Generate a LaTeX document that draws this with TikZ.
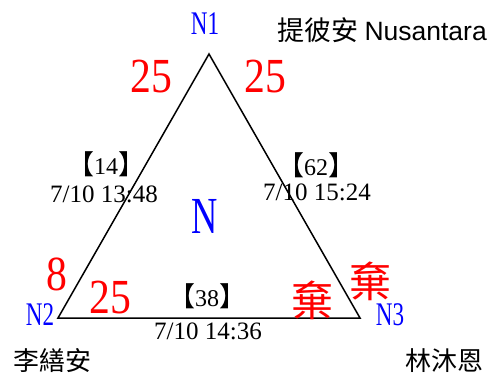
\documentclass[tikz,border=0pt]{standalone}
\usepackage{fontspec}
\setmainfont{Liberation Serif}
\newfontfamily\narrowfont[FakeStretch=0.7]{Liberation Serif}
\newfontfamily\digitfont[FakeStretch=0.85]{Liberation Serif}
\newfontfamily\sansfont{Liberation Sans}
\newfontfamily\cjk{Noto Sans CJK TC}
\newcommand{\lbr}{{\cjk\fontsize{27}{27}\selectfont 【}}
\newcommand{\rbr}{{\cjk\fontsize{27}{27}\selectfont 】}}
\usetikzlibrary{calc}

\begin{document}
\begin{tikzpicture}[x=1pt, y=-1pt,
		vertexlabel/.style={text=blue, inner sep=0pt, font=\narrowfont\fontsize{33}{33}\selectfont},
		score/.style={text=red, inner sep=0pt, font=\digitfont\fontsize{49}{49}\selectfont},
		quit/.style={text=red, inner sep=0pt, font=\cjk\fontsize{42}{42}\selectfont},
		count/.style={inner sep=0pt, font=\fontsize{24}{24}\selectfont},
		stamp/.style={inner sep=0pt, font=\fontsize{25}{25}\selectfont},
		player/.style={inner sep=0pt, font=\cjk\fontsize{26}{26}\selectfont}]
		%%%%% START %%%%%
		
		\useasboundingbox (0, 0) rectangle (490, 376);
		
		% triangle
		\coordinate (v1) at (209, 54);
		\coordinate (v2) at (58, 318);
		\coordinate (v3) at (360, 318);
		\draw[line width=1.5pt, line join=miter] (v1) -- (v2) -- (v3) -- cycle;
		
		% vertices and centre
		\node[vertexlabel] (n1) at (205, 24) {N1};
		\node[vertexlabel] (n2) at (40, 315) {N2};
		\node[vertexlabel] (n3) at (390, 315) {N3};
		\node[vertexlabel, font=\narrowfont\fontsize{52}{52}\selectfont] (ncentre) at (205, 216) {N};
		
		% players
		\node[player, anchor=east, font=\cjk\fontsize{27}{27}\selectfont] (p1) at (487, 30) {提彼安 {\sansfont\fontsize{26.5}{26.5}\selectfont Nusantara}};
		\node[player] (p2) at (52, 361) {李繕安};
		\node[player] (p3) at (444, 361) {林沐恩};
		
		% scores
		\node[score] (s1) at (151, 77) {25};
		\node[score] (s2) at (265, 77) {25};
		\node[score] (s3) at (57, 274) {8};
		\node[score] (s4) at (110, 298) {25};
		\node[quit] (q1) at (312, 300) {棄};
		\node[quit] (q2) at (370, 281) {棄};
		
		% edge counts
		\node[count] (c12) at (106, 164) {\lbr14\rbr};
		\node[stamp] (t12) at (104, 194) {7/10 13:48};
		\node[count] (c13) at (316, 165) {\lbr62\rbr};
		\node[stamp] (t13) at (317, 192) {7/10 15:24};
		\node[count] (c23) at (207, 296) {\lbr38\rbr};
		\node[stamp] (t23) at (208, 331) {7/10 14:36};
		
		%%%%% END %%%%%
	\end{tikzpicture}
\end{document}
